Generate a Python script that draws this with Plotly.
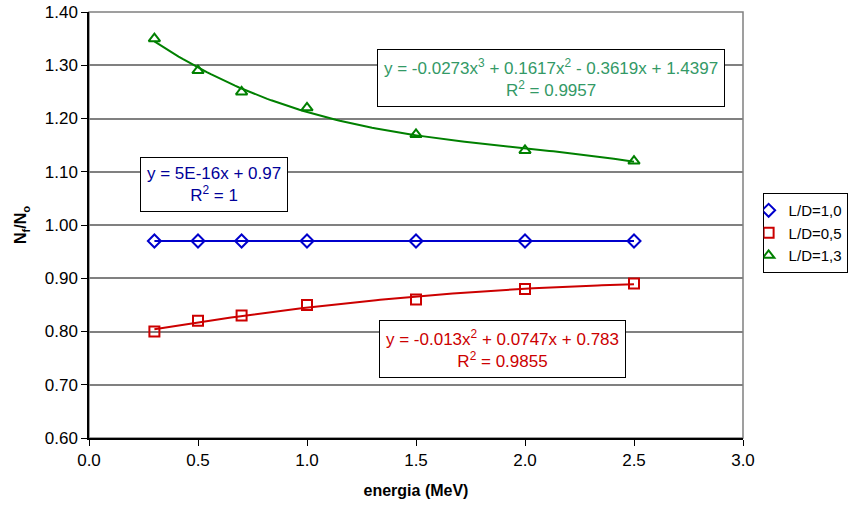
import numpy as np
import plotly.graph_objects as go

energia = [0.3, 0.5, 0.7, 1.0, 1.5, 2.0, 2.5]
ld_10 = [0.97, 0.97, 0.97, 0.97, 0.97, 0.97, 0.97]
ld_05 = [0.80, 0.82, 0.83, 0.85, 0.86, 0.88, 0.89]
ld_13 = [1.35, 1.29, 1.25, 1.22, 1.17, 1.14, 1.12]

names = ["L/D=1,0", "L/D=0,5", "L/D=1,3"]
eq_blue = "y = 5E-16x + 0.97<br>R<sup>2</sup> = 1"
eq_red = "y = -0.013x<sup>2</sup> + 0.0747x + 0.783<br>R<sup>2</sup> = 0.9855"
eq_green = "y = -0.0273x<sup>3</sup> + 0.1617x<sup>2</sup> - 0.3619x + 1.4397<br>R<sup>2</sup> = 0.9957"

FONT = "Liberation Sans, Arial, sans-serif"

fig = go.Figure()

xs = np.linspace(min(energia), max(energia), 120)
for ys, deg, col in [(ld_10, 1, "#0000CC"), (ld_05, 2, "#CC0000"), (ld_13, 3, "#008000")]:
    c = np.polyfit(energia, ys, deg)
    fig.add_trace(go.Scatter(x=xs, y=np.polyval(c, xs), mode="lines",
                             line=dict(color=col, width=2), showlegend=False, hoverinfo="skip"))

fig.add_trace(go.Scatter(x=energia, y=ld_10, mode="markers", name=names[0],
                         marker=dict(symbol="diamond-open", size=10, color="#0000CC",
                                     line=dict(width=2, color="#0000CC"))))
fig.add_trace(go.Scatter(x=energia, y=ld_05, mode="markers", name=names[1],
                         marker=dict(symbol="square-open", size=10, color="#CC0000",
                                     line=dict(width=2, color="#CC0000"))))
fig.add_trace(go.Scatter(x=energia, y=ld_13, mode="markers", name=names[2],
                         marker=dict(symbol="triangle-up-open", size=10, color="#008000",
                                     line=dict(width=2, color="#008000"))))

ann_common = dict(xref="x", yref="y", showarrow=False, bgcolor="white",
                  bordercolor="#000000", borderwidth=1, borderpad=6, align="center",
                  xanchor="center", yanchor="middle")
fig.add_annotation(x=2.118, y=1.2755, text=eq_green,
                   font=dict(family=FONT, size=17, color="#339966"), **ann_common)
fig.add_annotation(x=0.572, y=1.0770, text=eq_blue,
                   font=dict(family=FONT, size=17, color="#000099"), **ann_common)
fig.add_annotation(x=1.897, y=0.7670, text=eq_red,
                   font=dict(family=FONT, size=17, color="#CC0000"), **ann_common)

# plot area frame (gray)
fig.add_shape(type="rect", xref="paper", yref="paper", x0=0, y0=0, x1=1, y1=1,
              line=dict(color="#808080", width=1.5), layer="below")

fig.update_layout(
    width=861, height=506,
    margin=dict(l=89, r=118, t=12, b=68),
    paper_bgcolor="white", plot_bgcolor="white",
    font=dict(family=FONT, size=17, color="#000000"),
    legend=dict(x=1.03, y=0.575, xanchor="left", yanchor="top",
                bordercolor="#000000", borderwidth=1, bgcolor="white",
                font=dict(family=FONT, size=15), itemwidth=30, indentation=-15,
                tracegroupgap=0),
    showlegend=True,
)
fig.update_xaxes(range=[0, 3], dtick=0.5, tickformat=".1f", showgrid=False,
                 showline=True, linecolor="#000000", linewidth=1.5, automargin=False,
                 ticks="outside", ticklen=6, tickcolor="#000000", zeroline=False,
                 title=dict(text="<b>energia (MeV)</b>", font=dict(size=16), standoff=16))
fig.update_yaxes(range=[0.6, 1.4], dtick=0.1, tickformat=".2f", showgrid=True,
                 gridcolor="#808080", gridwidth=1.5, automargin=False,
                 showline=True, linecolor="#000000", linewidth=1.5,
                 ticks="outside", ticklen=6, tickcolor="#000000", zeroline=False,
                 title=dict(text="<b>N<sub>f</sub>/N<sub>o</sub></b>", font=dict(size=16), standoff=14))

fig.write_html("out.html", config={"displayModeBar": False},
               post_script="document.body.style.margin='0';")
